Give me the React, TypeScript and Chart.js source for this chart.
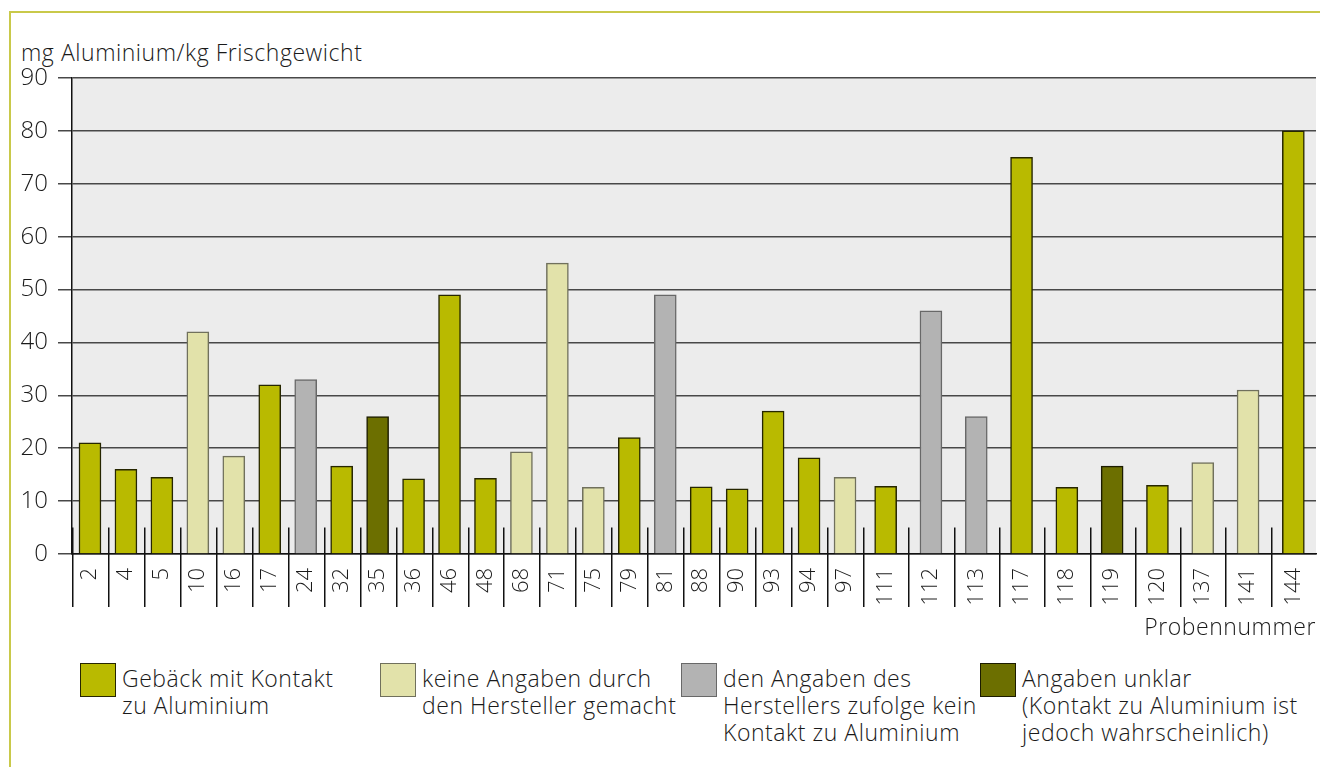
import React, { useEffect, useRef } from "react";
import { Chart, registerables } from "chart.js";

Chart.register(...registerables);

// ---- data ----
const sampleNumbers = ["2", "4", "5", "10", "16", "17", "24", "32", "35", "36", "46", "48", "68", "71", "75", "79", "81", "88", "90", "93", "94", "97", "111", "112", "113", "117", "118", "119", "120", "137", "141", "144"];
const aluminiumMgPerKg = [21, 16, 14.5, 42, 18.5, 32, 33, 16.6, 26, 14.2, 49, 14.3, 19.3, 55, 12.6, 22, 49, 12.7, 12.3, 27, 18.2, 14.5, 12.8, 46, 26, 75, 12.6, 16.6, 13, 17.3, 31, 80];
// 0 = Gebäck mit Kontakt, 1 = keine Angaben, 2 = kein Kontakt lt. Hersteller, 3 = unklar
const sampleGroup = [0, 0, 0, 1, 1, 0, 2, 0, 3, 0, 0, 0, 1, 1, 1, 0, 2, 0, 0, 0, 0, 1, 0, 2, 2, 0, 0, 3, 0, 1, 1, 0];
const groupLabels = [
  ["Gebäck mit Kontakt", "zu Aluminium"],
  ["keine Angaben durch", "den Hersteller gemacht"],
  ["den Angaben des", "Herstellers zufolge kein", "Kontakt zu Aluminium"],
  ["Angaben unklar", "(Kontakt zu Aluminium ist", "jedoch wahrscheinlich)"],
];
const yTickValues = [0, 10, 20, 30, 40, 50, 60, 70, 80, 90];
const yAxisTitle = "mg Aluminium/kg Frischgewicht";
const xAxisTitle = "Probennummer";
// the first samples sit in narrower slots than the last ones
const narrowSlotCount = 22;

// ---- styles ----
const FONT = "'Open Sans', 'Liberation Sans', sans-serif";
const FONT_WEIGHT = "300";
const TEXT = "#1a1a1a";
const groupFill = ["#b9ba00", "#e2e2aa", "#b3b3b3", "#6c6f00"];
const groupBorder = ["#262600", "#70705c", "#686868", "#1c1c00"];
const PLOT_BG = "#ececec";
const GRID = "#484848";

const plotBackground = {
  id: "plotBackground",
  beforeDraw(chart: any) {
    const { ctx, chartArea } = chart;
    ctx.save();
    ctx.fillStyle = PLOT_BG;
    ctx.fillRect(chartArea.left, chartArea.top, chartArea.right - chartArea.left, chartArea.bottom - chartArea.top);
    ctx.restore();
  },
};

const slotSeparators = {
  id: "slotSeparators",
  afterDatasetsDraw(chart: any, _args: any, opts: any) {
    const { ctx, chartArea, scales } = chart;
    const x = scales.x;
    const y = scales.y;
    const top = y.getPixelForValue(5);
    const bottom = chartArea.bottom + 53;
    ctx.save();
    ctx.strokeStyle = "#111";
    ctx.lineWidth = 1.5;
    (opts.boundaries as number[]).forEach((b) => {
      const px = Math.round(x.getPixelForValue(b)) + 0.75;
      ctx.beginPath();
      ctx.moveTo(px, top);
      ctx.lineTo(px, bottom);
      ctx.stroke();
    });
    ctx.restore();
  },
};

type PanelProps = {
  labels: string[];
  values: number[];
  groups: number[];
  showY: boolean;
  left: number;
  width: number;
  padRight: number;
  boundaries: number[];
};

function BarPanel({ labels, values, groups, showY, left, width, padRight, boundaries }: PanelProps) {
  const ref = useRef<HTMLCanvasElement>(null);
  const height = 620;
  useEffect(() => {
    const chart = new Chart(ref.current as HTMLCanvasElement, {
      type: "bar",
      data: {
        labels,
        datasets: [
          {
            data: values,
            backgroundColor: groups.map((g) => groupFill[g]),
            borderColor: groups.map((g) => groupBorder[g]),
            borderWidth: 1.5,
            barThickness: 22,
          },
        ],
      },
      plugins: [plotBackground, slotSeparators],
      options: {
        responsive: false,
        animation: false,
        devicePixelRatio: 1,
        layout: { padding: { top: 78, left: 0, right: padRight, bottom: 0 } },
        plugins: {
          legend: { display: false },
          tooltip: { enabled: false },
          slotSeparators: { boundaries },
        } as any,
        scales: {
          x: {
            type: "category",
            offset: true,
            grid: { display: false },
            border: { display: true, color: "#111", width: 1.5 },
            ticks: {
              autoSkip: false,
              minRotation: 90,
              maxRotation: 90,
              padding: 6,
              color: TEXT,
              font: { family: FONT, size: 22, weight: FONT_WEIGHT as any, lineHeight: 1 },
            },
            afterFit(s: any) {
              s.height = 66;
              s.paddingLeft = 0;
              s.paddingRight = 0;
            },
          },
          y: {
            min: yTickValues[0],
            max: yTickValues[yTickValues.length - 1],
            afterBuildTicks(s: any) {
              s.ticks = yTickValues.map((v) => ({ value: v }));
            },
            grid: {
              color: GRID,
              lineWidth: 1.5,
              drawTicks: showY,
              tickLength: 14,
              tickColor: GRID,
            },
            border: { display: showY, color: "#111", width: 1.5 },
            ticks: {
              display: showY,
              padding: 10,
              color: TEXT,
              font: { family: FONT, size: 24, weight: FONT_WEIGHT as any },
            },
            afterFit(s: any) {
              s.width = showY ? 72 : 0;
            },
          },
        },
      },
    });
    return () => chart.destroy();
  }, []);
  return (
    <canvas
      ref={ref}
      width={width}
      height={height}
      style={{ position: "absolute", left, top: 0, width, height }}
    />
  );
}

export default function App() {
  const nA = narrowSlotCount;
  const nB = sampleNumbers.length - narrowSlotCount;
  const boundariesA = Array.from({ length: nA }, (_, i) => i - 0.5);
  const boundariesB = Array.from({ length: nB }, (_, i) => i - 0.5);
  const legendX = [80, 380, 681, 980];
  const textStyle = { fontSize: 23, letterSpacing: "0.55px", whiteSpace: "nowrap" as const };
  return (
    <div
      style={{
        position: "fixed",
        left: 0,
        top: 0,
        width: 1320,
        height: 767,
        overflow: "hidden",
        background: "#fff",
        fontFamily: FONT,
        fontWeight: 300,
        color: TEXT,
      }}
    >
      <div
        style={{
          position: "absolute",
          left: 9,
          top: 11,
          width: 1400,
          height: 900,
          borderTop: "2px solid #c9c94a",
          borderLeft: "2px solid #c9c94a",
        }}
      />
      <div style={{ position: "absolute", left: 21, top: 39, lineHeight: "27px", ...textStyle }}>
        {yAxisTitle}
      </div>
      <BarPanel
        labels={sampleNumbers.slice(0, nA)}
        values={aluminiumMgPerKg.slice(0, nA)}
        groups={sampleGroup.slice(0, nA)}
        showY={true}
        left={0}
        width={863}
        padRight={0}
        boundaries={boundariesA}
      />
      <BarPanel
        labels={sampleNumbers.slice(nA)}
        values={aluminiumMgPerKg.slice(nA)}
        groups={sampleGroup.slice(nA)}
        showY={false}
        left={863}
        width={457}
        padRight={4}
        boundaries={boundariesB}
      />
      <div style={{ position: "absolute", right: 4, top: 613, lineHeight: "27px", ...textStyle }}>
        {xAxisTitle}
      </div>
      {groupLabels.map((lines, i) => (
        <div key={i} style={{ position: "absolute", left: legendX[i], top: 663 }}>
          <div
            style={{
              position: "absolute",
              left: 0,
              top: 0,
              width: 34,
              height: 32,
              background: groupFill[i],
              border: `1.5px solid ${groupBorder[i]}`,
            }}
          />
          <div
            style={{
              position: "absolute",
              left: 42,
              top: 2,
              lineHeight: "27px",
              ...textStyle,
            }}
          >
            {lines.map((l, j) => (
              <div key={j}>{l}</div>
            ))}
          </div>
        </div>
      ))}
    </div>
  );
}
